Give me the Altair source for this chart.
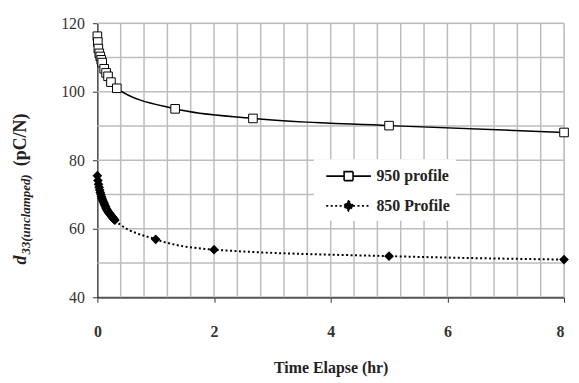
import altair as alt
import pandas as pd

# ---- data ----
series = ["950 profile", "850 Profile"]

t950 = [0.0, 0.008, 0.017, 0.033, 0.05, 0.067, 0.083, 0.117, 0.15, 0.183, 0.233, 0.333,
        1.333, 2.667, 5.0, 8.0]
v950 = [116.2, 114.5, 112.6, 111.2, 110.3, 109.3, 108.5, 106.7, 105.5, 104.5, 102.8, 101.0,
        95.0, 92.2, 90.1, 88.1]

t850 = [0.0, 0.01, 0.02, 0.03, 0.04, 0.05, 0.06, 0.07, 0.08, 0.09, 0.10,
        0.11, 0.12, 0.13, 0.14, 0.15, 0.16, 0.17, 0.18, 0.19, 0.20,
        0.21, 0.22, 0.23, 0.24, 0.25, 0.26, 0.27, 0.28, 0.29, 0.30,
        1.0, 2.0, 5.0, 8.0]
v850 = [75.5, 74.1, 73.0, 72.1, 71.3, 70.6, 70.0, 69.4, 68.9, 68.4, 68.0,
        67.6, 67.2, 66.8, 66.4, 66.0, 65.7, 65.4, 65.1, 64.8, 64.6,
        64.4, 64.2, 64.0, 63.7, 63.5, 63.3, 63.1, 62.9, 62.7, 62.5,
        56.9, 53.9, 52.0, 51.0]

x_ticks = [0, 2, 4, 6, 8]
y_ticks = [40, 60, 80, 100, 120]
x_grid = [0.4, 0.8, 1.2, 1.6, 2, 2.4, 2.8, 3.2, 3.6, 4, 4.4, 4.8, 5.2, 5.6, 6,
          6.4, 6.8, 7.2, 7.6, 8]
y_grid = [50, 60, 70, 80, 90, 100, 110, 120]

df950 = pd.DataFrame({"t": t950, "v": v950, "series": series[0]})
df850 = pd.DataFrame({"t": t850, "v": v850, "series": series[1]})
df_legend = pd.DataFrame({"series": series})
df_gx = pd.DataFrame({"gx": x_grid, "lo": 40, "hi": 120})
df_gy = pd.DataFrame({"gy": y_grid, "x0": 0, "x1": 8})

FONT = "Liberation Serif"
xs = alt.Scale(domain=[0, 8], nice=False)
ys = alt.Scale(domain=[40, 120], nice=False)

x_axis = alt.Axis(
    values=x_ticks, title="Time Elapse (hr)", format="d", labelOverlap=False, grid=False,
    tickSize=5, tickColor="#333",
    labelAlign={"condition": {"test": "datum.value === 8", "value": "right"}, "value": "center"},
    labelPadding=22, labelFont=FONT, labelFontSize=16, labelFontWeight="bold", labelColor="#333",
    titleFont=FONT, titleFontSize=16, titleFontWeight="bold", titleColor="#222", titlePadding=20,
    domainColor="#555", domainWidth=2)
y_axis = alt.Axis(
    values=y_ticks, title=None, format="d", labelOverlap=False, grid=False,
    tickSize=5, tickColor="#333",
    labelPadding=8, labelFont=FONT, labelFontSize=16, labelColor="#333",
    domainColor="#222", domainWidth=1.2)

X = lambda f: alt.X(f, type="quantitative", scale=xs, axis=x_axis)
Y = lambda f: alt.Y(f, type="quantitative", scale=ys, axis=y_axis)

grid_x = alt.Chart(df_gx).mark_rule(color="#bdbdbd", strokeWidth=1.5, opacity=1).encode(
    x=X("gx"), y=Y("lo"), y2=alt.Y2("hi"))
grid_y = alt.Chart(df_gy).mark_rule(color="#bdbdbd", strokeWidth=1.5, opacity=1).encode(
    y=Y("gy"), x=X("x0"), x2=alt.X2("x1"))

line950 = alt.Chart(df950).mark_line(color="black", strokeWidth=1.5, interpolate="monotone").encode(
    x=X("t"), y=Y("v"))
pts950 = alt.Chart(df950).mark_point(shape="square", size=75, filled=True, fill="white",
                                     stroke="black", strokeWidth=1, opacity=1).encode(x=X("t"), y=Y("v"))
line850 = alt.Chart(df850).mark_line(color="black", strokeWidth=2, strokeDash=[2, 2.5],
                                     interpolate="monotone").encode(x=X("t"), y=Y("v"))
pts850 = alt.Chart(df850).mark_point(shape="diamond", size=95, filled=True, color="black",
                                     opacity=1).encode(x=X("t"), y=Y("v"))

p950 = "M-2.25,0H-0.45M0.45,0H2.25M-0.45,-0.45H0.45V0.45H-0.45Z"
p850 = "M-2.25,0H-0.45M0.45,0H2.25M0,-0.5L0.5,0L0,0.5L-0.5,0Z"
leg = alt.Legend(orient="none", legendX=218, legendY=137, title=None, fillColor="white",
                 padding=6, symbolSize=400, symbolStrokeWidth=1.6, symbolStrokeColor="black",
                 symbolOffset=18, labelOffset=17, labelFont=FONT, labelFontSize=16,
                 labelFontWeight="bold", labelColor="#222", rowPadding=11)
legend_layer = alt.Chart(df_legend).transform_filter("false").mark_point(
    strokeWidth=1.6, opacity=1).encode(
    shape=alt.Shape("series:N", scale=alt.Scale(domain=series, range=[p950, p850]), legend=leg),
    fill=alt.Fill("series:N", scale=alt.Scale(domain=series, range=["white", "black"]), legend=leg),
    stroke=alt.Stroke("series:N", scale=alt.Scale(domain=series, range=["black", "black"]), legend=leg),
    strokeDash=alt.StrokeDash("series:N", scale=alt.Scale(domain=series, range=[[1, 0], [2, 2.5]]),
                              legend=leg),
)

one = alt.Data(values=[{"k": 1}])
t_d = alt.Chart(one).mark_text(text="d", angle=270, align="left", baseline="middle", font=FONT,
                               fontSize=18, fontWeight="bold", fontStyle="italic", color="#222").encode(
    x=alt.value(-77), y=alt.value(243))
t_sub = alt.Chart(one).mark_text(text="33(unclamped)", angle=270, align="left", baseline="middle",
                                 font=FONT, fontSize=13, fontWeight="bold", fontStyle="italic",
                                 color="#222").encode(x=alt.value(-72), y=alt.value(233))
t_unit = alt.Chart(one).mark_text(text="(pC/N)", angle=270, align="left", baseline="middle", font=FONT,
                                  fontSize=18, fontWeight="bold", color="#222").encode(
    x=alt.value(-77), y=alt.value(144))

chart = alt.layer(grid_x, grid_y, line950, line850, pts950, pts850, legend_layer,
                  t_d, t_sub, t_unit).properties(
    width=470, height=276, padding={"left": 4, "top": 6, "right": 0, "bottom": 0}
).configure_view(stroke=None).configure(background="white")

chart.save("out.html", embed_options={"renderer": "svg", "actions": False})
